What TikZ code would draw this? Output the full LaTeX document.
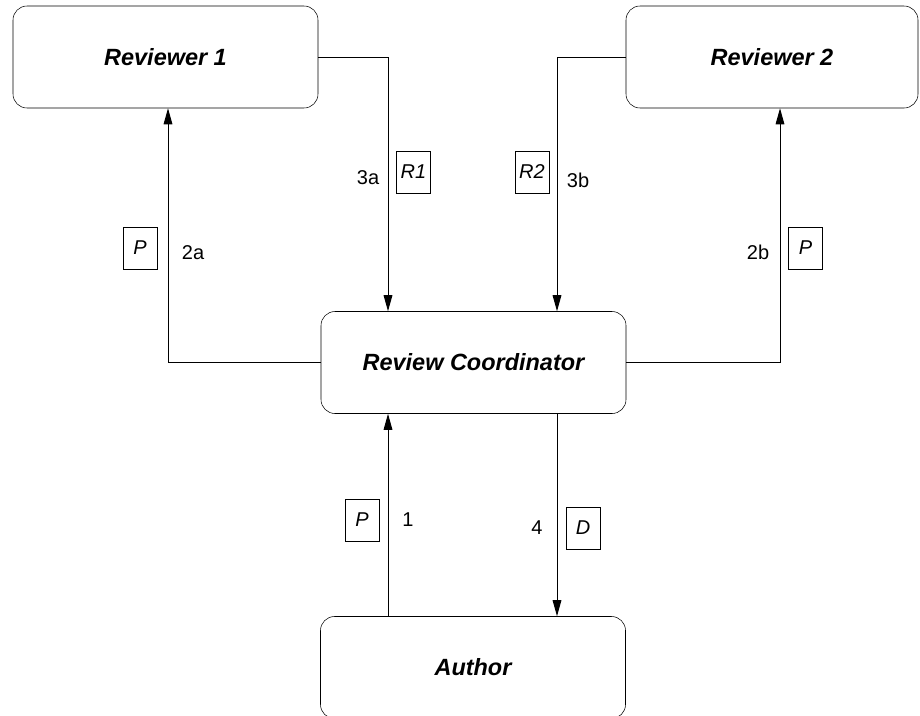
\documentclass[tikz,border=0pt]{standalone}
\usepackage{fontspec}
\setmainfont{Liberation Sans}
\usetikzlibrary{arrows.meta}
\tikzset{
  actor/.style={draw, rounded corners=10.5pt, minimum width=228.75pt, minimum height=76.5pt, inner sep=0pt, font=\fontsize{17.6}{20}\selectfont\bfseries\itshape},
  doc/.style={draw, minimum width=25.5pt, minimum height=31.5pt, inner sep=0pt, font=\fontsize{15}{17}\selectfont\itshape},
  num/.style={inner sep=0pt, font=\fontsize{15}{17}\selectfont},
  flow/.style={-{Triangle[length=12pt,width=6.5pt]}, line width=0.75pt}
}
\begin{document}
\begin{tikzpicture}[x=0.75pt, y=-0.75pt]
  \useasboundingbox (0,0) rectangle (920,715);

  \node[actor] (rev1) at (165.5,57) {Reviewer 1};
  \node[actor, minimum width=219pt] (rev2) at (772,57) {Reviewer 2};
  \node[actor] (coord) at (473.5,362.5) {Review Coordinator};
  \node[actor] (author) at (473,667.5) {Author};

  % columns the flows run along
  \coordinate (col2a) at (168,0);
  \coordinate (col3a) at (388,0);
  \coordinate (col3b) at (557,0);
  \coordinate (col2b) at (780,0);

  \draw[flow] (coord.west) -| (col2a |- rev1.south);
  \draw[flow] (rev1.east) -| (col3a |- coord.north);
  \draw[flow] (rev2.west) -| (col3b |- coord.north);
  \draw[flow] (coord.east) -| (col2b |- rev2.south);
  \draw[flow] (col3a |- author.north) -- (col3a |- coord.south);
  \draw[flow] (col3b |- coord.south) -- (col3b |- author.north);

  \node[doc] (p2a) at (140,248) {P};
  \node[num] (n2a) at (193,253) {2a};
  \node[num] (n3a) at (368,178) {3a};
  \node[doc] (r1) at (413.5,172) {R1};
  \node[doc] (r2) at (532,172) {R2};
  \node[num] (n3b) at (578,180) {3b};
  \node[num] (n2b) at (758,252) {2b};
  \node[doc] (p2b) at (805.5,248) {P};
  \node[doc] (p1) at (362,520) {P};
  \node[num] (n1) at (408,520) {1};
  \node[num] (n4) at (537,528) {4};
  \node[doc] (d4) at (583,528) {D};
\end{tikzpicture}
\end{document}
